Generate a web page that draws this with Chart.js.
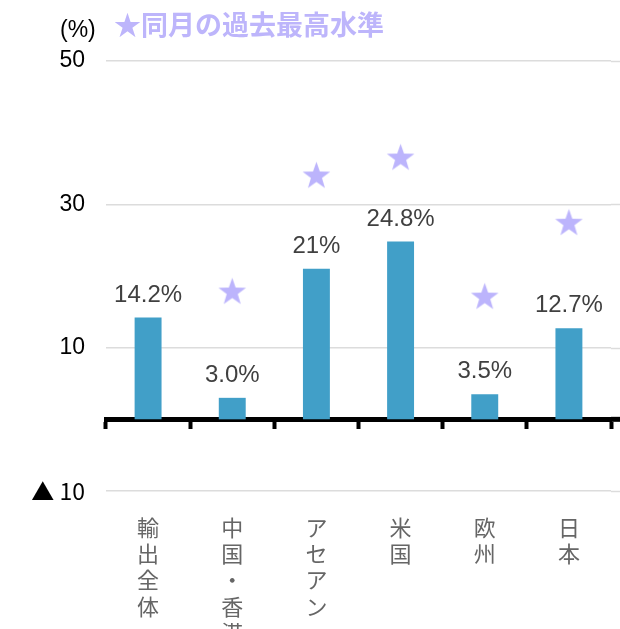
<!DOCTYPE html>
<html>
<head>
<meta charset="utf-8">
<script src="https://cdn.jsdelivr.net/npm/chart.js@4"></script>
<style>
  html, body { margin:0; padding:0; background:#fff; }
  #wrap { position:relative; width:620px; height:629px; }
  #c { position:absolute; left:0; top:0; }
  .unit { position:absolute; left:60px; top:16px; font:23px 'Liberation Sans', Arial, sans-serif; color:#000; line-height:26px; }
  .ttl { position:absolute; left:114px; top:8px; font:bold 27px 'Noto Sans CJK JP', sans-serif; color:#bdb5fb; line-height:32px; white-space:nowrap; }
</style>
</head>
<body>
<div id="wrap">
  <canvas id="c" width="620" height="629"></canvas>
  <div class="unit">(%)</div>
  <div class="ttl">★同月の過去最高水準</div>
</div>
<script>
// ---- data ----
const categories = [
  ['輸','出','全','体'],
  ['中','国','・','香','港'],
  ['ア','セ','ア','ン'],
  ['米','国'],
  ['欧','州'],
  ['日','本']
];
const growthValues = [14.2, 3.0, 21, 24.8, 3.5, 12.7];
const growthLabels = ['14.2%', '3.0%', '21%', '24.8%', '3.5%', '12.7%'];
const recordHighValues = [null, 17.9, 34.1, 36.6, 17.2, 27.5];
const yTickValues = [-10, 10, 30, 50];
const yTickLabels = ['▲ 10', '10', '30', '50'];

// star point image
function makeStar(size, color) {
  const cv = document.createElement('canvas');
  cv.width = size; cv.height = size;
  const g = cv.getContext('2d');
  const cx = size / 2, cy = size / 2 + 1.2, R = size / 2, r = R * 0.40;
  g.beginPath();
  for (let i = 0; i < 10; i++) {
    const rad = i % 2 === 0 ? R : r;
    const a = -Math.PI / 2 + i * Math.PI / 5;
    const x = cx + rad * Math.cos(a), y = cy + rad * Math.sin(a);
    if (i === 0) g.moveTo(x, y); else g.lineTo(x, y);
  }
  g.closePath();
  g.fillStyle = color;
  g.fill();
  return cv;
}
const starImg = makeStar(29, '#bcb4fc');

const valueLabelPlugin = {
  id: 'valueLabels',
  afterDatasetsDraw(chart) {
    const meta = chart.getDatasetMeta(0);
    const ctx = chart.ctx;
    ctx.save();
    ctx.font = "24px 'Liberation Sans', Arial, sans-serif";
    ctx.fillStyle = '#404040';
    ctx.textAlign = 'center';
    ctx.textBaseline = 'alphabetic';
    meta.data.forEach((el, i) => {
      ctx.fillText(growthLabels[i], el.x, el.y - 16);
    });
    ctx.restore();
  }
};

const extendLinesPlugin = {
  id: 'extendLines',
  beforeDatasetsDraw(chart) {
    const ctx = chart.ctx;
    const y = chart.scales.y;
    const right = chart.chartArea.right;
    ctx.save();
    ctx.strokeStyle = '#dcdcdc';
    ctx.lineWidth = 1.5;
    yTickValues.forEach(v => {
      const py = Math.round(y.getPixelForValue(v)) + 0.5;
      ctx.beginPath(); ctx.moveTo(right, py); ctx.lineTo(chart.width, py); ctx.stroke();
    });
    ctx.strokeStyle = '#000';
    ctx.lineWidth = 5;
    const pz = y.getPixelForValue(0);
    ctx.beginPath(); ctx.moveTo(right, pz); ctx.lineTo(chart.width, pz); ctx.stroke();
    ctx.restore();
  }
};

new Chart(document.getElementById('c'), {
  type: 'bar',
  data: {
    labels: categories,
    datasets: [
      {
        type: 'bar',
        data: growthValues,
        backgroundColor: '#419fc8',
        barPercentage: 0.32,
        categoryPercentage: 1,
        xAxisID: 'x',
        order: 2
      },
      {
        type: 'line',
        data: recordHighValues,
        showLine: false,
        pointStyle: starImg,
        xAxisID: 'x',
        order: 1
      }
    ]
  },
  options: {
    responsive: false,
    animation: false,
    layout: { padding: { top: 61, right: 9, left: 0, bottom: 0 } },
    plugins: { legend: { display: false }, tooltip: { enabled: false } },
    scales: {
      y: {
        min: -10, max: 50,
        afterFit(s) { s.width = 106; },
        afterBuildTicks(s) { s.ticks = yTickValues.map(v => ({ value: v })); },
        ticks: {
          padding: 21,
          color: '#000',
          font(c) {
            return (c.tick && c.tick.value < 0)
              ? { family: "'Noto Sans CJK JP', sans-serif", size: 23 }
              : { family: "'Liberation Sans', Arial, sans-serif", size: 23 };
          },
          callback(v) { const i = yTickValues.indexOf(v); return i >= 0 ? yTickLabels[i] : ''; }
        },
        grid: { color: '#dcdcdc', lineWidth: 1.5, drawTicks: false },
        border: { display: false }
      },
      x: {
        type: 'category',
        position: { y: 0 },
        offset: true,
        ticks: { display: false },
        grid: { display: true, drawOnChartArea: false, offset: true, tickLength: 7, tickWidth: 4, tickColor: '#000' },
        border: { display: true, color: '#000', width: 5 }
      },
      x2: {
        type: 'category',
        position: 'bottom',
        offset: true,
        afterFit(s) { s.height = 138; },
        ticks: {
          padding: 15,
          maxRotation: 0, minRotation: 0, autoSkip: false,
          color: '#666',
          font: { family: "'Noto Sans CJK JP', sans-serif", size: 22, lineHeight: 1.2 }
        },
        grid: { display: false },
        border: { display: false }
      }
    }
  },
  plugins: [valueLabelPlugin, extendLinesPlugin]
});
</script>
</body>
</html>
